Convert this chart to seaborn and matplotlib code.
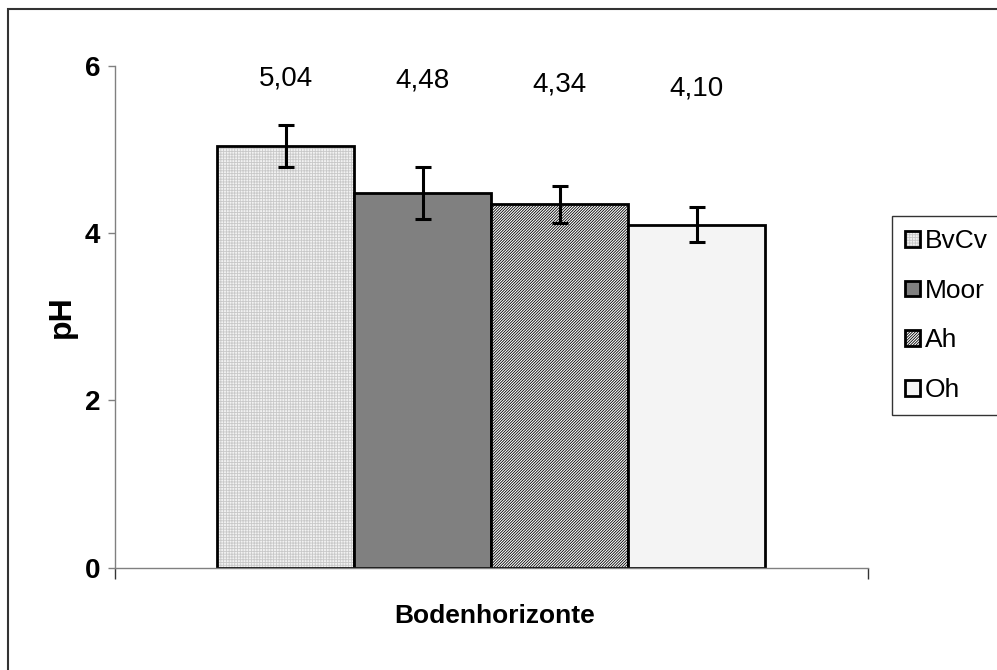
import pandas as pd
import matplotlib.pyplot as plt
import seaborn as sns
from matplotlib.colors import to_rgba
from matplotlib.patches import Rectangle

# Daten: pH-Mittelwerte je Bodenhorizont
horizonte = ["BvCv", "Moor", "Ah", "Oh"]
ph_werte = [5.04, 4.48, 4.34, 4.10]
ph_fehler = [0.25, 0.31, 0.22, 0.21]
ph_text = ["5,04", "4,48", "4,34", "4,10"]

# Darstellung
fuellung = ["#f2f2f2", "#808080", "#ffffff", "#f4f4f4"]
schraffur = ["+" * 6, "", "/" * 12, ""]
schraffur_farbe = ["#c8c8c8", "#000000", "#000000", "#000000"]
text_hoehe = [5.85, 5.82, 5.77, 5.73]

df = pd.DataFrame({"gruppe": [""] * len(horizonte), "horizont": horizonte, "ph": ph_werte})

sns.set_style("white")
plt.rcParams["font.family"] = ["Liberation Sans", "DejaVu Sans"]
plt.rcParams["hatch.linewidth"] = 0.6
plt.rcParams["text.color"] = "black"
plt.rcParams["axes.labelcolor"] = "black"
plt.rcParams["ytick.color"] = "black"

fig, ax = plt.subplots(figsize=(9.97, 6.70), dpi=100)
fig.subplots_adjust(left=0.1149, right=0.8706, bottom=0.1527, top=0.9022)

sns.barplot(data=df, x="gruppe", y="ph", hue="horizont", hue_order=horizonte,
            palette=dict(zip(horizonte, fuellung)), edgecolor="black",
            linewidth=2, width=0.8, errorbar=None, legend=False, ax=ax)

handles = []
bar_conts = list(ax.containers)
for i, cont in enumerate(bar_conts):
    bar = cont.patches[0]
    bar.set_hatch(schraffur[i])
    bar._hatch_color = to_rgba(schraffur_farbe[i])
    handles.append(bar)
    xc = bar.get_x() + bar.get_width() / 2
    ax.errorbar(xc, ph_werte[i], yerr=ph_fehler[i], color="black",
                elinewidth=2.2, capsize=6, capthick=2.2, zorder=5)
    ax.text(xc, text_hoehe[i], ph_text[i], ha="center", va="center",
            fontsize=20, color="black")

ax.set_ylim(0, 6)
ax.set_yticks([0, 2, 4, 6])
ax.set_xlim(-0.55, 0.55)
ax.set_xticks([-0.55, 0.55])
ax.set_xticklabels(["", ""])
for lab in ax.get_yticklabels():
    lab.set_fontweight("bold")
    lab.set_fontsize(20)
ax.tick_params(axis="y", direction="out", length=5.4, width=1, color="#808080",
               labelcolor="black", pad=5.0, left=True)
ax.tick_params(axis="x", direction="out", length=8, width=1, color="#333333", bottom=True)

for s in ["top", "right"]:
    ax.spines[s].set_visible(False)
for s in ["left", "bottom"]:
    ax.spines[s].set_color("#808080")
    ax.spines[s].set_linewidth(1)

ax.set_ylabel("pH", fontsize=23, fontweight="bold")
ax.yaxis.set_label_coords(-0.050, 0.5)
ax.set_xlabel("Bodenhorizonte", fontsize=19, fontweight="bold")
ax.xaxis.set_label_coords(0.505, -0.072)

leg = ax.legend(handles, horizonte, loc="upper left",
                bbox_to_anchor=(0.8947, 0.6776, 0.13, 0.0), mode="expand",
                bbox_transform=fig.transFigure, fontsize=19, frameon=True, fancybox=False,
                handlelength=0.55, handleheight=0.55, handletextpad=0.2, labelspacing=0.97,
                borderpad=0.5, borderaxespad=0)
leg.get_frame().set_edgecolor("#333333")
leg.get_frame().set_linewidth(1)
leg.get_frame().set_alpha(1)
for h in leg.legend_handles:
    h.set_linewidth(2)

# Rahmen um das Diagramm
fig.add_artist(Rectangle((0.0085, -0.05), 1.05, 1.0366, transform=fig.transFigure,
                         fill=False, edgecolor="#333333", linewidth=1.5))

fig.savefig("out.png", dpi=100)
